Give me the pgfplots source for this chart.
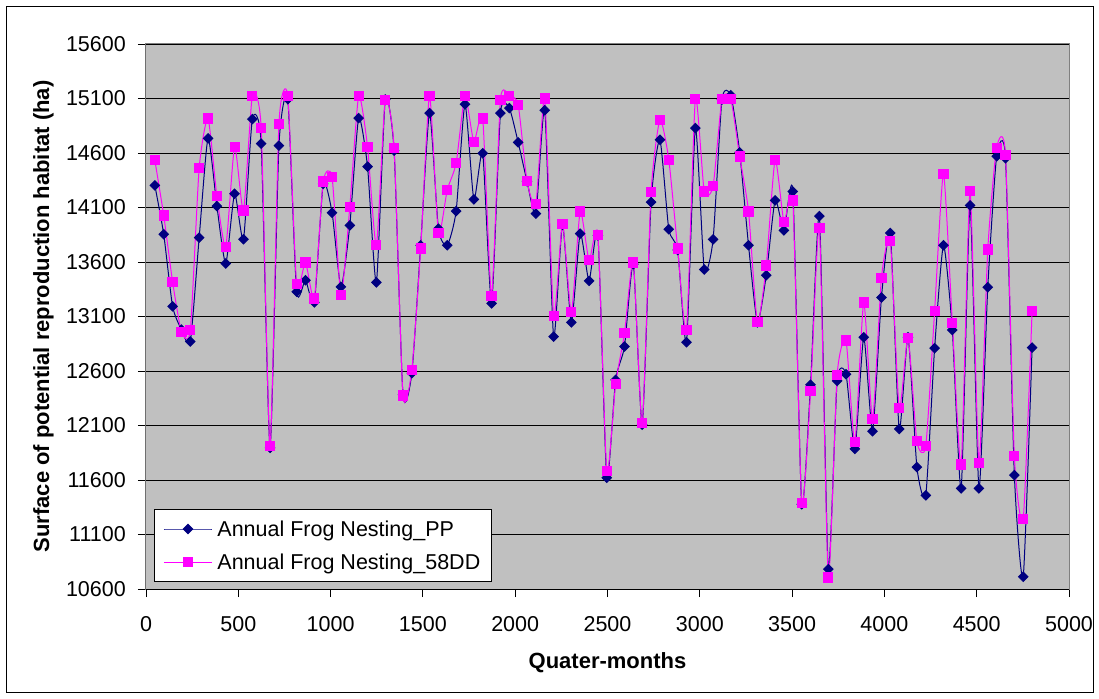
\documentclass[border=0pt]{standalone}
\usepackage{pgfplots}
\pgfplotsset{compat=1.18}
\usepackage{pgfplotstable}
\usepackage{fontspec}
\setmainfont{Liberation Sans}
\definecolor{ppblue}{HTML}{000080}
\definecolor{ddpink}{HTML}{FF00FF}
\definecolor{plotbg}{HTML}{C0C0C0}
\definecolor{plotborder}{HTML}{808080}

\pgfplotstableread{
x pp dd
48 14302 14533
96 13854 14027
144 13193 13418
192 12980 12961
240 12870 12973
288 13823 14460
336 14734 14917
384 14113 14204
432 13586 13741
480 14226 14658
528 13808 14073
576 14911 15124
624 14686 14826
672 11895 11910
720 14667 14865
768 15094 15124
816 13327 13397
864 13433 13595
912 13229 13266
960 14317 14338
1008 14052 14378
1056 13372 13296
1104 13936 14104
1152 14920 15124
1200 14475 14658
1248 13412 13753
1296 15090 15088
1344 14622 14646
1392 12382 12376
1440 12580 12611
1488 13753 13723
1536 14966 15124
1584 13906 13869
1632 13753 14262
1680 14067 14506
1728 15048 15124
1776 14174 14704
1824 14597 14917
1872 13220 13290
1920 14966 15088
1968 15012 15124
2016 14698 15042
2064 14341 14341
2112 14043 14134
2160 14993 15100
2208 12915 13107
2256 13942 13948
2304 13046 13138
2352 13860 14064
2400 13427 13616
2448 13845 13851
2496 11620 11681
2544 12519 12480
2592 12824 12946
2640 13580 13595
2688 12108 12120
2736 14149 14241
2784 14722 14905
2832 13900 14539
2880 13710 13723
2928 12863 12973
2976 14829 15094
3024 13531 14247
3072 13808 14296
3120 15090 15095
3168 15130 15094
3216 14606 14567
3264 13753 14064
3312 13046 13046
3360 13479 13567
3408 14165 14539
3456 13890 13967
3504 14247 14165
3552 11377 11392
3600 12474 12413
3648 14021 13915
3696 10782 10706
3744 12510 12565
3792 12571 12879
3840 11885 11946
3888 12909 13229
3936 12047 12157
3984 13275 13455
4032 13866 13790
4080 12068 12260
4128 12909 12900
4176 11718 11955
4224 11459 11910
4272 12809 13150
4320 13753 14408
4368 12976 13043
4416 11523 11742
4464 14119 14250
4512 11523 11757
4560 13369 13714
4608 14570 14649
4656 14552 14582
4704 11645 11818
4752 10712 11239
4800 12815 13150
}\datatable

\newcommand\tickfont{\fontsize{21.5}{24}\selectfont}
\newcommand\labfont{\fontsize{22}{26}\selectfont\bfseries}

\begin{document}
\begin{tikzpicture}
\useasboundingbox (-146pt,-109pt) rectangle (953pt,589pt);
\draw[black, line width=0.8pt] (-140pt,-103pt) rectangle (947pt,583pt);
\begin{axis}[
  at={(0pt,0pt)}, anchor=south west,
  scale only axis, width=923pt, height=545pt,
  xmin=0, xmax=5000, ymin=10600, ymax=15600,
  xtick={0,500,...,5000}, ytick={10600,11100,...,15600},
  scaled ticks=false,
  axis background/.style={fill=plotbg},
  axis line style={draw=plotborder, line width=1pt},
  ymajorgrids, grid style={black, line width=0.9pt},
  tick align=outside, major tick length=8pt,
  tick style={black, line width=0.9pt},
  tick pos=left,
  /pgf/number format/assume math mode=true,
  /pgf/number format/1000 sep={},
  every tick label/.append style={font=\tickfont, inner sep=2pt},
  yticklabel style={xshift=-10pt},
  xticklabel style={yshift=-17pt},
  xlabel={Quater-months},
  ylabel={Surface of potential reproduction habitat (ha)},
  label style={font=\labfont},
  xlabel style={at={(axis description cs:0.5,-0.136)}, anchor=center},
  ylabel style={at={(axis description cs:-0.111,0.5)}, anchor=center},
  legend style={at={(axis description cs:0.0087,0.0128)}, anchor=south west,
    draw=black, fill=white, line width=0.8pt, font=\tickfont,
    inner xsep=9pt, inner ysep=9pt, row sep=12pt,
    nodes={inner sep=2pt},
    /tikz/every odd column/.append style={column sep=3pt}},
  legend cell align=left,
  legend image code/.code={\draw[mark repeat=2,mark phase=2,#1] plot coordinates {(0pt,0pt) (24pt,0pt) (48pt,0pt)};},
]
\addplot[color=ppblue, line width=1pt, smooth, tension=0.35, mark=square*, mark size=3.3pt,
  mark options={rotate=45, fill=ppblue, solid}] table[x=x,y=pp]{\datatable};
\addlegendentry{Annual Frog Nesting\_PP}
\addplot[color=ddpink, line width=1pt, smooth, tension=0.35, mark=square*, mark size=4.6pt,
  mark options={fill=ddpink, solid}] table[x=x,y=dd]{\datatable};
\addlegendentry{Annual Frog Nesting\_58DD}
\draw[black, line width=1pt] (rel axis cs:0,1) -- (rel axis cs:0,0) -- (rel axis cs:1,0);
\end{axis}
\end{tikzpicture}
\end{document}
